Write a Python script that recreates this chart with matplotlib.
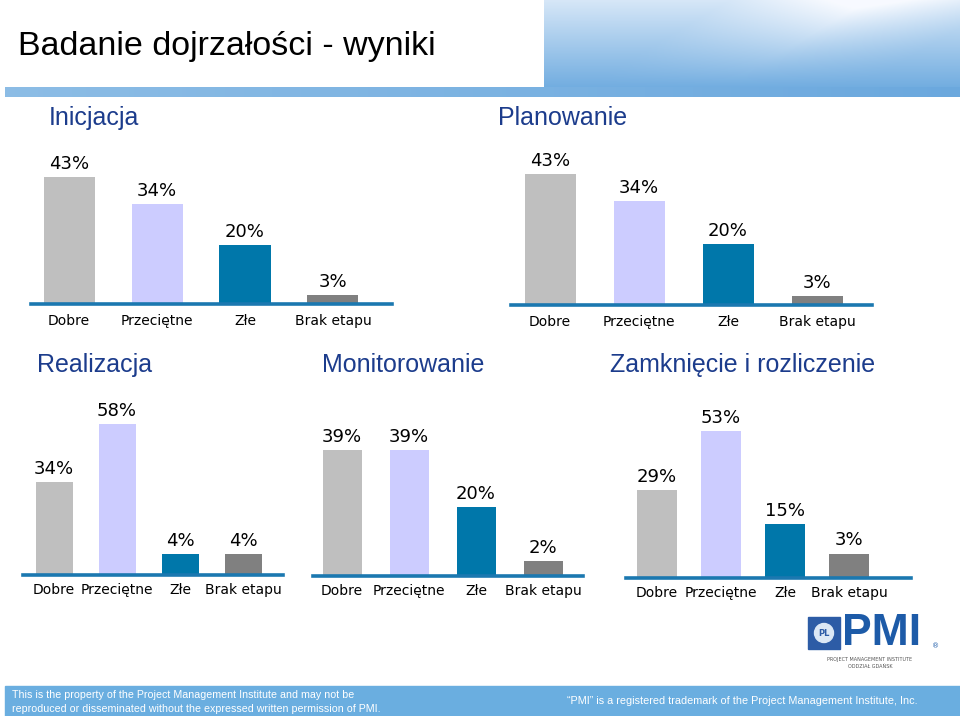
import numpy as np
import matplotlib
matplotlib.use("Agg")
import matplotlib.pyplot as plt
from matplotlib.patches import Rectangle, Circle

W, H = 960, 716

# --- data ---
categories = ["Dobre", "Przeciętne", "Złe", "Brak etapu"]
inicjacja = [43, 34, 20, 3]
planowanie = [43, 34, 20, 3]
realizacja = [34, 58, 4, 4]
monitorowanie = [39, 39, 20, 2]
zamkniecie = [29, 53, 15, 3]
titles = ["Inicjacja", "Planowanie", "Realizacja", "Monitorowanie", "Zamknięcie i rozliczenie"]

BAR_COLORS = ["#bfbfbf", "#ccccff", "#0077aa", "#808080"]
AXIS_BLUE = "#1b78b0"; TITLE_BLUE = "#1c3c8c"; BAND = "#6aaee0"

plt.rcParams["font.family"] = ["DejaVu Sans"]

fig = plt.figure(figsize=(W/100, H/100), dpi=100)
bg = fig.add_axes([0, 0, 1, 1]); bg.set_xlim(0, W); bg.set_ylim(H, 0); bg.axis("off")

# --- header: gradient block on the right + blue band ---
gy, gx = np.mgrid[0:87, 0:416]
t = gy / 86.0
u = gx / 415.0
lens = np.clip(1 - np.abs(u - 0.78 + 0.35 * t) * 3.0, 0, 1) * (1 - t)
shade = np.clip(0.25 + 0.75 * t - 0.35 * lens, 0, 1)
white = np.array([0.97, 0.98, 1.0]); blue = np.array([0.45, 0.68, 0.88])
img = white * (1 - shade[..., None]) + blue * shade[..., None]
bg.imshow(img, extent=(544, 960, 87, 0), aspect="auto", zorder=0)
band = np.linspace(0, 1, 200)[None, :, None]
bimg = np.array([0.55, 0.74, 0.90]) * (1 - band) + np.array([0.42, 0.66, 0.87]) * band
bg.imshow(np.repeat(bimg, 2, axis=0), extent=(5, 960, 97, 87), aspect="auto", zorder=1)
bg.text(18, 46, "Badanie dojrzałości - wyniki", fontsize=24.5, va="center",
        family="Liberation Sans", color="black")

# --- footer ---
bg.add_patch(Rectangle((5, 686), 955, 30, color=BAND, zorder=1))
bg.text(12, 695, "This is the property of the Project Management Institute and may not be",
        fontsize=7.7, color="white", va="center", family="Liberation Sans")
bg.text(12, 709, "reproduced or disseminated without the expressed written permission of PMI.",
        fontsize=7.7, color="white", va="center", family="Liberation Sans")
bg.text(567, 701, "\u201cPMI\u201d is a registered trademark of the Project Management Institute, Inc.",
        fontsize=7.8, color="white", va="center", family="Liberation Sans")

# --- PMI logo ---
bg.add_patch(Rectangle((808, 617), 32, 32, color="#2d5ca6", zorder=2))
bg.add_patch(Circle((824, 633), 9.5, color="#dce8f5", zorder=3))
bg.text(824, 633, "PL", fontsize=6, fontweight="bold", color="#2d5ca6", ha="center", va="center", zorder=4)
bg.text(842, 654, "PMI", fontsize=32, fontweight="bold", color="#1d5ba8", va="bottom",
        family="Liberation Sans", zorder=2)
bg.text(932, 646, "®", fontsize=5, color="#1d5ba8", va="center")
bg.text(870, 660, "PROJECT MANAGEMENT INSTITUTE", fontsize=3.5, color="#555555", ha="center", va="center")
bg.text(870, 667, "ODDZIAŁ GDAŃSK", fontsize=3.5, color="#555555", ha="center", va="center")


def chart(vals, title, tpos, x0, x1, base, c0, d, bw, floor, k, pad, top=170):
    ax = fig.add_axes([x0/W, 1 - base/H, (x1 - x0)/W, top/H])
    ax.set_xlim((x0 - c0)/d, (x1 - c0)/d)
    ax.set_ylim(floor, floor + top/k)
    xs = np.arange(len(vals))
    v = np.array(vals, float)
    ax.bar(xs, v - floor, bottom=floor, width=bw/d, color=BAR_COLORS)
    for x, val in zip(xs, vals):
        ax.annotate(f"{val}%", (x, val), xytext=(0, 3), textcoords="offset points",
                    ha="center", va="bottom", fontsize=13)
    for s in ["top", "left", "right"]:
        ax.spines[s].set_visible(False)
    ax.spines["bottom"].set_color(AXIS_BLUE); ax.spines["bottom"].set_linewidth(2.6)
    ax.set_yticks([])
    ax.set_xticks(xs); ax.set_xticklabels(categories, fontsize=10)
    ax.tick_params(axis="x", length=0, pad=pad)
    ax.patch.set_alpha(0)
    bg.text(tpos[0], tpos[1], title, fontsize=18, color=TITLE_BLUE, va="center",
            family="Liberation Sans")


chart(inicjacja, titles[0], (49, 118), 31, 392, 304, 69, 88, 51, 0, 2.95, 7)
chart(planowanie, titles[1], (498, 118), 511, 872, 305, 550, 89, 51, 0, 3.05, 7)
chart(realizacja, titles[2], (37, 365), 23, 283, 575, 54, 63, 37, -4.5, 2.42, 6)
chart(monitorowanie, titles[3], (322, 365), 313, 583, 576, 342, 67, 39, -3, 3.0, 6)
chart(zamkniecie, titles[4], (610, 365), 626, 911, 578, 657, 64, 40, -7, 2.45, 6)

fig.savefig("out.png", dpi=100)
